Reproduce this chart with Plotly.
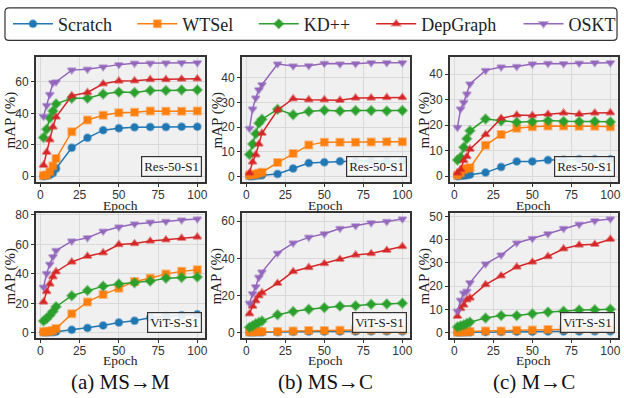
import plotly.graph_objects as go
from plotly.subplots import make_subplots

epochs = [2, 4, 6, 8, 10, 20, 30, 40, 50, 60, 70, 80, 90, 100]
methods = ["Scratch", "WTSel", "KD++", "DepGraph", "OSKT"]
colors = ["#1f77b4", "#ff7f0e", "#2ca02c", "#d62728", "#9467bd"]
edge_colors = ["rgba(31,119,180,0.5)", "rgba(255,127,14,0.5)", "rgba(44,160,44,0.5)",
               "rgba(214,39,40,0.5)", "rgba(148,103,189,0.5)"]
symbols = ["circle", "square", "diamond", "triangle-up", "triangle-down"]

# (a) MS->M, Res-50-S1
a_res_scratch = [0.0, 0.2, 0.8, 2.0, 4.9, 18.1, 24.4, 29.3, 30.5, 31.1, 31.3, 31.3, 31.5, 31.5]
a_res_wtsel = [0.4, 0.8, 2.8, 6.5, 11.2, 28.3, 35.8, 38.8, 40.3, 40.7, 41.5, 41.3, 41.3, 41.5]
a_res_kd = [24.6, 29.9, 37.0, 41.5, 46.0, 49.6, 49.6, 52.3, 53.5, 53.3, 54.5, 54.5, 54.9, 54.9]
a_res_dep = [7.0, 15.3, 23.2, 31.3, 37.6, 51.2, 53.3, 58.8, 60.6, 60.8, 61.6, 61.6, 61.8, 62.0]
a_res_oskt = [38.0, 45.0, 52.0, 59.4, 60.0, 67.5, 68.0, 69.5, 71.0, 71.8, 71.8, 72.0, 72.2, 72.2]

# (b) MS->C, Res-50-S1
b_res_scratch = [0.1, 0.1, 0.3, 0.4, 0.5, 1.0, 3.2, 5.4, 5.7, 6.1, 6.2, 6.3, 6.3, 6.3]
b_res_wtsel = [0.5, 0.8, 0.9, 1.3, 1.7, 5.6, 9.3, 12.7, 13.9, 13.9, 13.9, 14.0, 14.1, 14.1]
b_res_kd = [8.9, 13.1, 17.3, 21.6, 23.2, 27.2, 25.0, 26.3, 26.8, 26.5, 26.7, 26.7, 26.5, 26.7]
b_res_dep = [1.4, 5.8, 8.8, 13.1, 17.5, 26.9, 31.5, 31.1, 31.1, 30.9, 31.8, 31.8, 32.0, 32.0]
b_res_oskt = [19.4, 27.3, 31.8, 35.1, 37.2, 45.6, 44.8, 44.9, 45.8, 45.6, 45.7, 46.1, 46.1, 46.1]

# (c) M->C, Res-50-S1
c_res_scratch = [0.0, 0.1, 0.2, 0.4, 0.6, 1.4, 3.6, 5.8, 5.8, 6.3, 6.4, 6.6, 6.6, 6.6]
c_res_wtsel = [0.4, 1.2, 2.5, 3.0, 3.3, 12.1, 16.3, 18.8, 19.4, 19.7, 19.7, 19.6, 19.6, 19.4]
c_res_kd = [6.3, 7.4, 11.3, 14.7, 17.8, 22.4, 21.7, 21.2, 21.4, 21.8, 21.5, 21.4, 21.5, 21.3]
c_res_dep = [1.2, 2.6, 6.1, 7.7, 10.6, 16.3, 22.7, 24.0, 23.8, 24.3, 24.8, 24.3, 24.8, 24.9]
c_res_oskt = [19.1, 26.4, 28.9, 32.2, 36.2, 41.5, 42.8, 43.0, 44.0, 44.2, 44.1, 44.3, 44.5, 44.5]

# (a) MS->M, ViT-S-S1
a_vit_scratch = [0.4, 0.5, 0.6, 0.6, 0.9, 2.1, 3.4, 5.1, 7.1, 8.3, 10.3, 11.3, 12.0, 12.6]
a_vit_wtsel = [0.9, 0.9, 1.1, 1.7, 3.0, 13.0, 21.0, 26.1, 30.2, 34.9, 37.0, 40.0, 41.7, 42.8]
a_vit_kd = [8.1, 9.8, 12.0, 14.5, 17.8, 25.2, 28.7, 31.7, 33.2, 34.0, 35.1, 37.0, 37.6, 37.9]
a_vit_dep = [21.0, 28.0, 33.2, 38.1, 41.5, 48.1, 52.0, 54.3, 59.9, 60.5, 62.2, 63.1, 64.2, 65.0]
a_vit_oskt = [31.0, 40.2, 46.6, 51.6, 55.8, 62.2, 64.4, 68.9, 71.7, 73.8, 74.9, 75.5, 76.4, 77.2]

# (b) MS->C, ViT-S-S1
b_vit_scratch = [0.2, 0.2, 0.3, 0.3, 0.3, 0.4, 0.5, 0.6, 0.6, 0.7, 0.7, 0.8, 0.8, 0.8]
b_vit_wtsel = [0.5, 0.5, 0.6, 0.6, 0.6, 0.7, 1.0, 1.2, 1.2, 1.4, 1.5, 1.5, 1.5, 1.5]
b_vit_kd = [2.9, 3.7, 4.8, 5.5, 6.3, 9.7, 11.4, 12.6, 13.5, 14.3, 14.5, 15.3, 15.5, 15.9]
b_vit_dep = [10.2, 14.3, 17.2, 19.9, 21.5, 26.6, 32.9, 35.1, 37.2, 39.5, 41.8, 42.6, 44.3, 46.4]
b_vit_oskt = [15.9, 21.0, 24.7, 29.8, 32.6, 42.8, 48.2, 51.3, 53.2, 56.1, 57.6, 59.1, 59.8, 61.2]

# (c) M->C, ViT-S-S1
c_vit_scratch = [0.2, 0.2, 0.2, 0.3, 0.3, 0.4, 0.4, 0.5, 0.5, 0.6, 0.6, 0.6, 0.7, 0.7]
c_vit_wtsel = [0.4, 0.5, 0.5, 0.6, 0.6, 0.8, 0.8, 1.1, 1.2, 1.4, 1.5, 1.5, 1.5, 1.6]
c_vit_kd = [2.5, 3.0, 3.4, 4.0, 4.6, 6.4, 7.4, 7.4, 8.2, 8.9, 9.3, 9.8, 9.9, 10.1]
c_vit_dep = [7.1, 10.4, 11.9, 14.2, 15.0, 20.7, 24.5, 28.3, 30.4, 32.8, 36.1, 37.7, 38.0, 40.2]
c_vit_oskt = [9.3, 14.0, 17.0, 17.8, 21.5, 29.6, 33.4, 38.6, 40.5, 42.5, 44.8, 46.6, 48.1, 48.9]

panels = [
    ([a_res_scratch, a_res_wtsel, a_res_kd, a_res_dep, a_res_oskt], "Res-50-S1", 20),
    ([b_res_scratch, b_res_wtsel, b_res_kd, b_res_dep, b_res_oskt], "Res-50-S1", 10),
    ([c_res_scratch, c_res_wtsel, c_res_kd, c_res_dep, c_res_oskt], "Res-50-S1", 10),
    ([a_vit_scratch, a_vit_wtsel, a_vit_kd, a_vit_dep, a_vit_oskt], "ViT-S-S1", 20),
    ([b_vit_scratch, b_vit_wtsel, b_vit_kd, b_vit_dep, b_vit_oskt], "ViT-S-S1", 20),
    ([c_vit_scratch, c_vit_wtsel, c_vit_kd, c_vit_dep, c_vit_oskt], "ViT-S-S1", 10),
]
captions = ["(a) MS\u2192M", "(b) MS\u2192C", "(c) M\u2192C"]
x_ticks = [0, 25, 50, 75, 100]
x_title = "Epoch"
y_title = "mAP (%)"

W, H = 624, 398
col_px = [(36, 206), (243, 412), (452, 621)]
row_px = [(53, 180), (212, 339)]
xtitle_y = [204, 361.5]
caption_y = 383.5
legend_x_px = [8, 133, 255, 373, 521]

fig = make_subplots(rows=2, cols=3)

SERIF = "Liberation Serif, Times New Roman, serif"
SANS = "Liberation Sans, Arial, sans-serif"
legend_names = ["legend", "legend2", "legend3", "legend4", "legend5"]

for p, (series, label, dtick) in enumerate(panels):
    r, c = p // 3 + 1, p % 3 + 1
    for i, vals in enumerate(series):
        fig.add_trace(go.Scatter(
            x=epochs, y=vals, mode="lines+markers", name=methods[i],
            legendgroup=methods[i], showlegend=(p == 0), legend=legend_names[i],
            line=dict(color=colors[i], width=1.5),
            marker=dict(symbol=symbols[i], size=7, color=colors[i],
                        line=dict(color=edge_colors[i], width=2)),
        ), row=r, col=c)
    allv = [v for s in series for v in s]
    lo, hi = min(allv), max(allv)
    m = (hi - lo) * 0.05
    xm = (max(epochs) - min(epochs)) * 0.05
    x0, x1 = col_px[c - 1]
    y0, y1 = row_px[r - 1]
    fig.update_xaxes(row=r, col=c, domain=[x0 / W, x1 / W],
                     range=[min(epochs) - xm, max(epochs) + xm],
                     tickvals=x_ticks, ticks="outside", ticklen=3, tickcolor="#333",
                     ticklabelstandoff=-2,
                     showgrid=True, gridcolor="#d9d9d9", gridwidth=1.2,
                     showline=True, linecolor="#333", linewidth=1.5, mirror=True,
                     zeroline=False,
                     tickfont=dict(family=SANS, size=12, color="#333"))
    fig.update_yaxes(row=r, col=c, domain=[1 - y1 / H, 1 - y0 / H],
                     range=[lo - m, hi + m], dtick=dtick, tick0=0,
                     ticks="outside", ticklen=3, tickcolor="#333",
                     showgrid=True, gridcolor="#d9d9d9", gridwidth=1.2,
                     showline=True, linecolor="#333", linewidth=1.5, mirror=True,
                     zeroline=False,
                     tickfont=dict(family=SANS, size=12, color="#333"))
    # axis titles
    fig.add_annotation(text=x_title, xref="paper", yref="paper",
                       x=(x0 + x1) / 2 / W, y=1 - xtitle_y[r - 1] / H,
                       xanchor="center", yanchor="middle", showarrow=False, borderpad=0,
                       font=dict(family=SERIF, size=13.5, color="#222"))
    fig.add_annotation(text=y_title, xref="paper", yref="paper",
                       x=(x0 - 25) / W, y=1 - (y0 + y1) / 2 / H, textangle=-90,
                       xanchor="center", yanchor="middle", showarrow=False, borderpad=0,
                       font=dict(family=SERIF, size=15, color="#222"))
    xref = "x domain" if p == 0 else f"x{p + 1} domain"
    yref = "y domain" if p == 0 else f"y{p + 1} domain"
    fig.add_annotation(text=label, xref=xref, yref=yref, x=0.985, y=0.04,
                       xanchor="right", yanchor="bottom", showarrow=False,
                       font=dict(family=SERIF, size=13, color="#222"),
                       bgcolor="rgba(250,250,250,0.9)", bordercolor="#333",
                       borderwidth=1.2, borderpad=2)

for k, cap in enumerate(captions):
    x0, x1 = col_px[k]
    fig.add_annotation(text=cap, xref="paper", yref="paper",
                       x=(x0 + x1) / 2 / W, y=1 - caption_y / H,
                       xanchor="center", yanchor="middle", showarrow=False, borderpad=0,
                       font=dict(family=SERIF, size=21, color="#111"))

# rounded legend frame
lx0, lx1, ly0, ly1, rr = 5, 620, 3, 36, 4
def px(x): return x / W
def py(y): return 1 - y / H
path = (f"M {px(lx0 + rr)},{py(ly0)} L {px(lx1 - rr)},{py(ly0)} "
        f"Q {px(lx1)},{py(ly0)} {px(lx1)},{py(ly0 + rr)} L {px(lx1)},{py(ly1 - rr)} "
        f"Q {px(lx1)},{py(ly1)} {px(lx1 - rr)},{py(ly1)} L {px(lx0 + rr)},{py(ly1)} "
        f"Q {px(lx0)},{py(ly1)} {px(lx0)},{py(ly1 - rr)} L {px(lx0)},{py(ly0 + rr)} "
        f"Q {px(lx0)},{py(ly0)} {px(lx0 + rr)},{py(ly0)} Z")
fig.add_shape(type="path", path=path, xref="paper", yref="paper",
              line=dict(color="#333", width=1.2), fillcolor="rgba(255,255,255,0)")

legend_layout = {}
for k, ln in enumerate(legend_names):
    legend_layout[ln] = dict(orientation="h", x=legend_x_px[k] / W, y=1 - 19.5 / H,
                             xanchor="left", yanchor="middle",
                             font=dict(family=SERIF, size=18, color="#222"),
                             bgcolor="rgba(0,0,0,0)", borderwidth=0, itemwidth=40)

fig.update_layout(
    width=W, height=H, margin=dict(l=0, r=0, t=0, b=0),
    paper_bgcolor="white", plot_bgcolor="#f0f0f0",
    showlegend=True, **legend_layout,
)

fig.write_html("out.html")
